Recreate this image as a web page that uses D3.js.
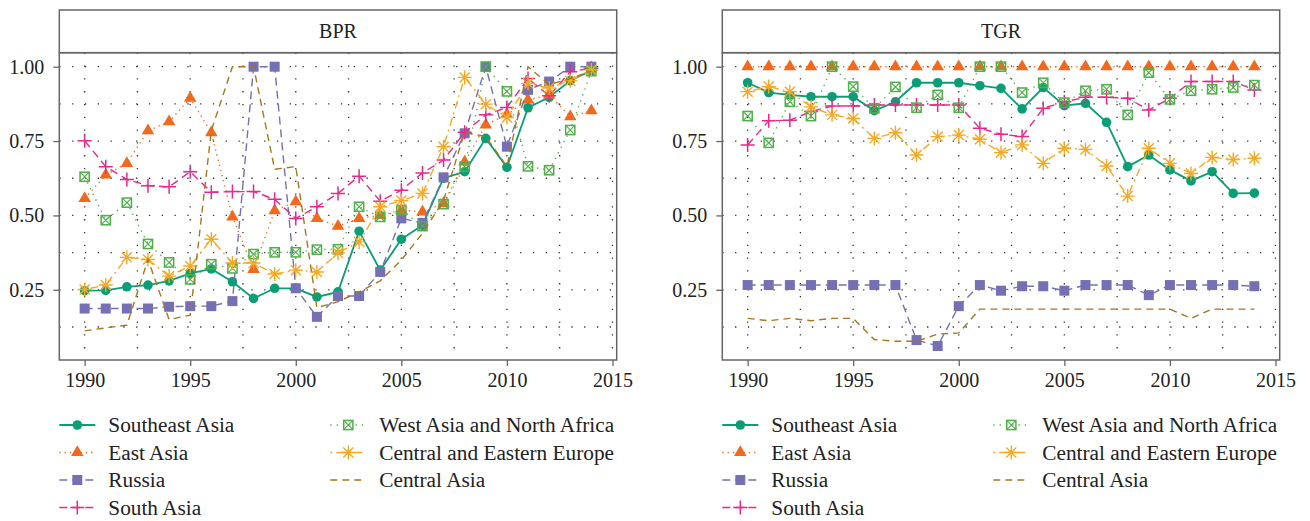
<!DOCTYPE html>
<html>
<head>
<meta charset="utf-8">
<script src="https://cdn.jsdelivr.net/npm/d3@7"></script>
<style>
  body { margin: 0; background: #fff; }
  text { font-family: "Liberation Serif", "DejaVu Serif", serif; fill: #222; }
</style>
</head>
<body>
<script>
// years on the x axis
var years = [1990, 1991, 1992, 1993, 1994, 1995, 1996, 1997, 1998, 1999, 2000, 2001, 2002,
             2003, 2004, 2005, 2006, 2007, 2008, 2009, 2010, 2011, 2012, 2013, 2014]

var xTicks = [1990, 1995, 2000, 2005, 2010, 2015]
var yTicks = [0.25, 0.5, 0.75, 1.0]
var panelNames = ["BPR", "TGR"]
var regions = ["Southeast Asia", "East Asia", "Russia", "South Asia",
               "West Asia and North Africa", "Central and Eastern Europe", "Central Asia"]

// BPR panel
var bprSoutheastAsia = [0.247, 0.248, 0.26, 0.266, 0.28, 0.305, 0.32, 0.277, 0.221, 0.255, 0.255, 0.226, 0.243,
                        0.447, 0.316, 0.42, 0.467, 0.625, 0.647, 0.759, 0.662, 0.862, 0.897, 0.953, 0.987]
var bprEastAsia = [0.557, 0.636, 0.675, 0.785, 0.815, 0.894, 0.778, 0.495, 0.319, 0.516, 0.546, 0.49, 0.464,
                   0.49, 0.5, 0.518, 0.512, 0.54, 0.68, 0.804, 0.84, 0.888, 0.905, 0.832, 0.852]
var bprRussia = [0.187, 0.187, 0.187, 0.187, 0.193, 0.195, 0.195, 0.212, 1.0, 1.0, 0.255, 0.159, 0.229,
                 0.229, 0.31, 0.49, 0.475, 0.628, 0.776, 1.0, 0.731, 0.922, 0.95, 1.0, 1.0]
var bprSouthAsia = [0.751, 0.664, 0.621, 0.6, 0.596, 0.647, 0.578, 0.58, 0.58, 0.554, 0.49, 0.529, 0.574,
                    0.632, 0.548, 0.585, 0.643, 0.686, 0.78, 0.838, 0.863, 0.96, 0.902, 0.983, 0.995]
var bprWestAsia = [0.63, 0.484, 0.543, 0.404, 0.342, 0.285, 0.336, 0.322, 0.37, 0.376, 0.376, 0.385, 0.386,
                   0.529, 0.495, 0.518, 0.464, 0.538, 0.664, 1.0, 0.917, 0.665, 0.652, 0.787, 0.985]
var bprCEEurope = [0.251, 0.266, 0.359, 0.352, 0.296, 0.33, 0.42, 0.34, 0.34, 0.303, 0.316, 0.31, 0.374,
                   0.411, 0.529, 0.55, 0.574, 0.731, 0.964, 0.874, 0.829, 0.944, 0.928, 0.953, 0.989]
var bprCentralAsia = [0.112, 0.122, 0.131, 0.352, 0.15, 0.165, 0.785, 1.0, 1.0, 0.655, 0.664, 0.19, 0.21,
                      0.243, 0.28, 0.35, 0.44, 0.55, 0.78, 0.765, 0.664, 1.0, 0.94, 0.96, 0.985]

// TGR panel
var tgrSoutheastAsia = [0.946, 0.913, 0.905, 0.899, 0.899, 0.899, 0.852, 0.882, 0.946, 0.946, 0.946, 0.936, 0.927,
                        0.858, 0.93, 0.869, 0.877, 0.813, 0.664, 0.703, 0.653, 0.616, 0.647, 0.574, 0.575]
var tgrEastAsia = [1, 1, 1, 1, 1, 1, 1, 1, 1, 1, 1, 1, 1, 1, 1, 1, 1, 1, 1, 1, 1, 1, 1, 1, 1]
var tgrRussia = [0.266, 0.266, 0.266, 0.266, 0.266, 0.266, 0.266, 0.266, 0.081, 0.061, 0.195, 0.266, 0.247,
                 0.262, 0.262, 0.247, 0.266, 0.266, 0.266, 0.232, 0.266, 0.266, 0.266, 0.266, 0.262]
var tgrSouthAsia = [0.737, 0.818, 0.82, 0.849, 0.868, 0.868, 0.871, 0.871, 0.871, 0.871, 0.871, 0.793, 0.773,
                    0.765, 0.86, 0.882, 0.897, 0.897, 0.894, 0.854, 0.894, 0.95, 0.95, 0.95, 0.922]
var tgrWestAsia = [0.834, 0.744, 0.882, 0.834, 1.0, 0.933, 0.86, 0.932, 0.862, 0.905, 0.862, 1.0, 1.0,
                   0.913, 0.946, 0.879, 0.919, 0.924, 0.838, 0.98, 0.89, 0.919, 0.924, 0.93, 0.938]
var tgrCEEurope = [0.916, 0.933, 0.916, 0.865, 0.838, 0.826, 0.759, 0.778, 0.703, 0.765, 0.77, 0.756, 0.711,
                   0.737, 0.675, 0.726, 0.722, 0.666, 0.565, 0.726, 0.675, 0.641, 0.695, 0.688, 0.692]
var tgrCentralAsia = [0.154, 0.146, 0.154, 0.146, 0.154, 0.154, 0.083, 0.077, 0.077, 0.101, 0.105, 0.185, 0.185,
                      0.185, 0.185, 0.185, 0.185, 0.185, 0.185, 0.185, 0.185, 0.154, 0.185, 0.185, 0.185]

var panelSeries = [
    [bprSoutheastAsia, bprEastAsia, bprRussia, bprSouthAsia, bprWestAsia, bprCEEurope, bprCentralAsia],
    [tgrSoutheastAsia, tgrEastAsia, tgrRussia, tgrSouthAsia, tgrWestAsia, tgrCEEurope, tgrCentralAsia]
]

// look of each region
var styles = [
    {color: "#0a9e76", dash: null,        width: 1.8, shape: "circle"},
    {color: "#f2691e", dash: "1.3,4",     width: 1.4, shape: "triangle"},
    {color: "#7570b3", dash: "8,5",       width: 1.4, shape: "square"},
    {color: "#e7298a", dash: "8,5",       width: 1.4, shape: "plus"},
    {color: "#4fb04a", dash: "1.3,5",     width: 1.4, shape: "boxx"},
    {color: "#f7a823", dash: "2,4,8,4",   width: 1.4, shape: "star"},
    {color: "#a8761f", dash: "7,5",       width: 1.4, shape: null}
]

var width = 1310, height = 521
var svg = d3.select("body").append("svg").attr("width", width).attr("height", height)

var panelLeft = [59.3, 722.3]
var panelWidth = 557.4
var plotTop = 52.7, plotBottom = 360, stripTop = 10

var y = d3.scaleLinear().domain([0.014, 1.047]).range([plotBottom, plotTop])

main()

function main() {
    panelNames.forEach(function(name, i) {
        drawPanel(i)
    })
}

function drawMarker(g, shape, color) {
    if (shape == "circle") {
        g.append("circle").attr("r", 4.8).attr("fill", color)
    } else if (shape == "triangle") {
        g.append("path").attr("d", d3.symbol(d3.symbolTriangle, 68)()).attr("fill", color)
    } else if (shape == "square") {
        g.append("rect").attr("x", -5).attr("y", -5).attr("width", 10).attr("height", 10).attr("fill", color)
    } else if (shape == "plus") {
        g.append("path").attr("d", "M-7,0H7M0,-7V7").attr("stroke", color).attr("stroke-width", 1.5)
    } else if (shape == "boxx") {
        g.append("rect").attr("x", -4.6).attr("y", -4.6).attr("width", 9.2).attr("height", 9.2)
            .attr("fill", "none").attr("stroke", color).attr("stroke-width", 1.5)
        g.append("path").attr("d", "M-4.6,-4.6L4.6,4.6M-4.6,4.6L4.6,-4.6")
            .attr("stroke", color).attr("stroke-width", 1.1)
    } else if (shape == "star") {
        g.append("path").attr("d", "M-7,0H7M0,-7V7M-5,-5L5,5M-5,5L5,-5")
            .attr("stroke", color).attr("stroke-width", 1.4)
    }
}

function drawPanel(i) {
    var left = panelLeft[i]
    var x = d3.scaleLinear().domain([1988.8, 2015.2]).range([left, left + panelWidth])
    var g = svg.append("g").attr("class", "panel")

    // dotted grid, major and minor
    var grid = g.append("g").attr("class", "grid")
    d3.range(0.125, 1.01, 0.125).forEach(function(v) {
        grid.append("line")
            .attr("x1", left).attr("x2", left + panelWidth)
            .attr("y1", y(v)).attr("y2", y(v))
    })
    d3.range(1990, 2015.1, 2.5).forEach(function(v) {
        grid.append("line")
            .attr("x1", x(v)).attr("x2", x(v))
            .attr("y1", plotTop).attr("y2", plotBottom)
    })
    grid.selectAll("line")
        .attr("stroke", "#333").attr("stroke-width", 1.3)
        .attr("stroke-dasharray", "1.3,11.5")

    // strip
    g.append("rect")
        .attr("x", left).attr("y", stripTop)
        .attr("width", panelWidth).attr("height", plotTop - stripTop)
        .attr("fill", "#fff").attr("stroke", "#666").attr("stroke-width", 1.5)
    g.append("text")
        .attr("x", left + panelWidth / 2).attr("y", (stripTop + plotTop) / 2)
        .attr("text-anchor", "middle").attr("dominant-baseline", "central")
        .style("font-size", "20px")
        .text(panelNames[i])

    // series
    var line = d3.line()
        .x(function(d) { return x(d.year) })
        .y(function(d) { return y(d.value) })

    panelSeries[i].forEach(function(values, k) {
        var st = styles[k]
        var pts = years.map(function(yr, j) { return {year: yr, value: values[j]} })
        var s = g.append("g").attr("class", "series")
        s.append("path")
            .attr("d", line(pts))
            .attr("fill", "none")
            .attr("stroke", st.color)
            .attr("stroke-width", st.width)
            .attr("stroke-dasharray", st.dash)
        if (st.shape) {
            pts.forEach(function(p) {
                var m = s.append("g").attr("transform", "translate(" + [x(p.year), y(p.value)] + ")")
                drawMarker(m, st.shape, st.color)
            })
        }
    })

    // panel border
    g.append("rect")
        .attr("x", left).attr("y", plotTop)
        .attr("width", panelWidth).attr("height", plotBottom - plotTop)
        .attr("fill", "none").attr("stroke", "#666").attr("stroke-width", 1.5)

    // axes
    var xAxis = g.append("g")
        .attr("transform", "translate(0," + plotBottom + ")")
        .call(d3.axisBottom(x).tickValues(xTicks).tickSize(6).tickPadding(7).tickFormat(d3.format("d")))
    var yAxis = g.append("g")
        .attr("transform", "translate(" + left + ",0)")
        .call(d3.axisLeft(y).tickValues(yTicks).tickSize(6).tickPadding(9).tickFormat(d3.format(".2f")))
    ;[xAxis, yAxis].forEach(function(a) {
        a.select(".domain").remove()
        a.selectAll(".tick line").attr("stroke", "#666").attr("stroke-width", 1.3)
        a.selectAll("text").attr("font-family", null).attr("font-size", null)
            .style("font-size", "20px").attr("fill", "#222")
    })

    // legend, two columns
    var legend = g.append("g").attr("class", "legend")
    regions.forEach(function(name, k) {
        var col = k < 4 ? 0 : 1
        var row = k < 4 ? k : k - 4
        var lx = left + (col == 0 ? 0 : 271)
        var ly = 425 + row * 27.5
        var st = styles[k]
        var item = legend.append("g").attr("transform", "translate(" + [lx, ly] + ")")
        item.append("line")
            .attr("x1", 0).attr("x2", 36)
            .attr("stroke", st.color).attr("stroke-width", st.width)
            .attr("stroke-dasharray", st.dash)
        if (st.shape) {
            var m = item.append("g").attr("transform", "translate(18,0)")
            drawMarker(m, st.shape, st.color)
        }
        item.append("text")
            .attr("x", 49).attr("dominant-baseline", "central")
            .style("font-size", "21.3px")
            .text(name)
    })
}
</script>
</body>
</html>
